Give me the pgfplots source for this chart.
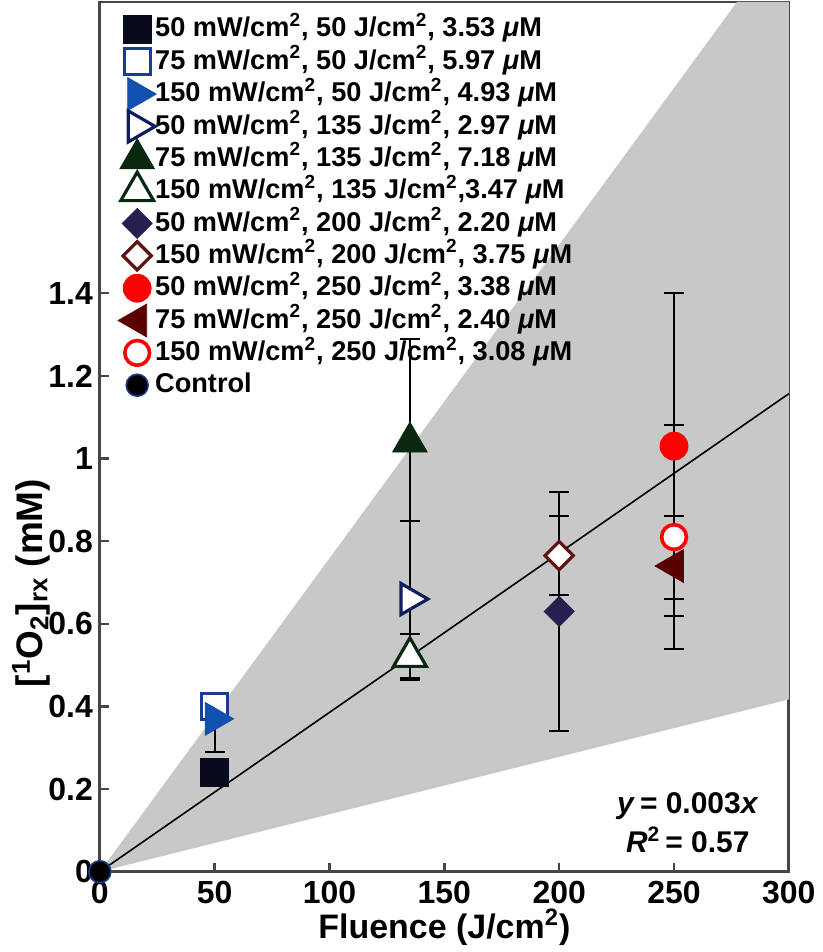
\documentclass[border=0pt]{standalone}
\usepackage{pgfplots}
\pgfplotsset{compat=1.18}
\usepackage{fontspec}
\setmainfont{Liberation Sans}
\definecolor{cgray}{RGB}{200,200,200}
\definecolor{axgray}{RGB}{70,70,70}
\definecolor{cnavy}{RGB}{8,10,30}
\definecolor{cblue}{RGB}{25,60,145}
\definecolor{cbright}{RGB}{18,80,175}
\definecolor{cdnavy}{RGB}{15,30,95}
\definecolor{cgreen}{RGB}{10,40,15}
\definecolor{cpurple}{RGB}{40,30,80}
\definecolor{cbrown}{RGB}{95,20,20}
\definecolor{cdred}{RGB}{90,0,0}
\begin{document}
\begin{tikzpicture}
\begin{axis}[
  scale only axis,
  width=345pt, height=435.5pt,
  xmin=0, xmax=300, ymin=0, ymax=2.105,
  xtick={0,50,...,300},
  ytick={0,0.2,0.4,0.6,0.8,1,1.2,1.4},
  tick align=inside,
  xtick pos=bottom, ytick pos=left,
  major tick length=4.5pt,
  axis line style={axgray, line width=1.4pt},
  every tick/.style={axgray, line width=1.2pt},
  /pgf/number format/assume math mode=true,
  tick label style={font=\bfseries\fontsize{16}{18}\selectfont, black},
  xticklabel style={yshift=-1pt},
  xlabel={\textbf{Fluence (J/cm\textsuperscript{2})}},
  xlabel style={font=\fontsize{17}{19}\selectfont, yshift=4pt},
  ylabel={\textbf{[\textsuperscript{1}O\textsubscript{2}]\textsubscript{rx} (mM)}},
  ylabel style={font=\fontsize{18.5}{20}\selectfont, at={(axis description cs:-0.10,0.332)}, anchor=center},
  clip=false,
  legend cell align=left,
  legend style={at={(0,1)}, anchor=north west, draw=none, fill=none,
    font=\bfseries\fontsize{13.6}{15}\selectfont,
    inner xsep=10.5pt, inner ysep=7.5pt,
    row sep=4.2pt,
    nodes={text height=9.8pt, text depth=2.2pt, inner sep=0pt, inner xsep=1pt}},
  legend image code/.code={\path[draw=none, fill=none] (0pt,-6pt) rectangle (16pt,6pt);
    \draw[overlay, mark repeat=2,mark phase=2] plot coordinates {(0pt,0pt)(8pt,0pt)(16pt,0pt)};},
  error bars/error bar style={black, line width=1pt},
  error bars/error mark options={rotate=90, mark size=5pt, line width=1pt, black},
]
% gray band
\addplot[fill=cgray, draw=none, forget plot] coordinates {(0,0) (277.4,2.105) (300,2.105) (300,0.417) (0,0)};
% regression line
\addplot[black, line width=0.8pt, forget plot] coordinates {(0,0) (300,1.157)};

\addplot[only marks, mark=square*, mark size=7pt, draw=cnavy, fill=cnavy] coordinates {(50,0.24)};
\addlegendentry{50 mW/cm\textsuperscript{2}, 50 J/cm\textsuperscript{2}, 3.53 \textit{μ}M}

\addplot[only marks, mark=square*, mark size=6.5pt, draw=cblue, fill=white, line width=1.6pt] coordinates {(50,0.40)};
\addlegendentry{75 mW/cm\textsuperscript{2}, 50 J/cm\textsuperscript{2}, 5.97 \textit{μ}M}

\addplot[only marks, mark=triangle*, mark size=9.5pt, mark options={rotate=-90, draw=cbright, fill=cbright},
  error bars/.cd, y dir=minus, y explicit] coordinates {(50,0.37) -= (0,0.08)};
\addlegendentry{150 mW/cm\textsuperscript{2}, 50 J/cm\textsuperscript{2}, 4.93 \textit{μ}M}

\addplot[only marks, mark=triangle*, mark size=9pt, mark options={rotate=-90, draw=cdnavy, fill=white, line width=1.6pt},
  error bars/.cd, y dir=both, y explicit] coordinates {(135,0.66) +- (0,0.19)};
\addlegendentry{50 mW/cm\textsuperscript{2}, 135 J/cm\textsuperscript{2}, 2.97 \textit{μ}M}

\addplot[only marks, mark=triangle*, mark size=10pt, mark options={draw=cgreen, fill=cgreen},
  error bars/.cd, y dir=both, y explicit] coordinates {(135,1.04) += (0,0.25) -= (0,0.19)};
\addlegendentry{75 mW/cm\textsuperscript{2}, 135 J/cm\textsuperscript{2}, 7.18 \textit{μ}M}

\addplot[only marks, mark=triangle*, mark size=9.5pt, mark options={draw=cgreen, fill=white, line width=1.6pt},
  error bars/.cd, y dir=both, y explicit] coordinates {(135,0.52) +- (0,0.055)};
\addlegendentry{150 mW/cm\textsuperscript{2}, 135 J/cm\textsuperscript{2},3.47 \textit{μ}M}

\addplot[only marks, mark=square*, mark size=5.3pt, mark options={rotate=45, draw=cpurple, fill=cpurple},
  error bars/.cd, y dir=both, y explicit] coordinates {(200,0.63) +- (0,0.29)};
\addlegendentry{50 mW/cm\textsuperscript{2}, 200 J/cm\textsuperscript{2}, 2.20 \textit{μ}M}

\addplot[only marks, mark=square*, mark size=5pt, mark options={rotate=45, draw=cbrown, fill=white, line width=1.6pt},
  error bars/.cd, y dir=both, y explicit] coordinates {(200,0.765) +- (0,0.095)};
\addlegendentry{150 mW/cm\textsuperscript{2}, 200 J/cm\textsuperscript{2}, 3.75 \textit{μ}M}

\addplot[only marks, mark=*, mark size=7pt, mark options={draw=red, fill=red},
  error bars/.cd, y dir=both, y explicit] coordinates {(250,1.03) +- (0,0.37)};
\addlegendentry{50 mW/cm\textsuperscript{2}, 250 J/cm\textsuperscript{2}, 3.38 \textit{μ}M}

\addplot[only marks, mark=triangle*, mark size=9.5pt, mark options={rotate=90, draw=cdred, fill=cdred},
  error bars/.cd, y dir=both, y explicit] coordinates {(250,0.74) +- (0,0.12)};
\addlegendentry{75 mW/cm\textsuperscript{2}, 250 J/cm\textsuperscript{2}, 2.40 \textit{μ}M}

\addplot[only marks, mark=*, mark size=6.2pt, mark options={draw=red, fill=white, line width=1.8pt},
  error bars/.cd, y dir=both, y explicit] coordinates {(250,0.81) +- (0,0.27)};
\addlegendentry{150 mW/cm\textsuperscript{2}, 250 J/cm\textsuperscript{2}, 3.08 \textit{μ}M}

\addplot[only marks, mark=*, mark size=5.5pt, mark options={draw=cblue, fill=black, line width=0.8pt}] coordinates {(0,0)};
\addlegendentry{Control}

\node[font=\bfseries\fontsize{15}{17}\selectfont] at (axis cs:256,0.158) {\textit{y}\,= 0.003\textit{x}};
\node[font=\bfseries\fontsize{15}{17}\selectfont] at (axis cs:256,0.077) {\textit{R}\textsuperscript{2}\,= 0.57};
\end{axis}
\path (current axis.south west) ++(-50pt,-39.5pt) coordinate (bbA);
\path (current axis.north east) ++(13pt,1pt) coordinate (bbB);
\path (bbA) rectangle (bbB);
\end{tikzpicture}
\end{document}
